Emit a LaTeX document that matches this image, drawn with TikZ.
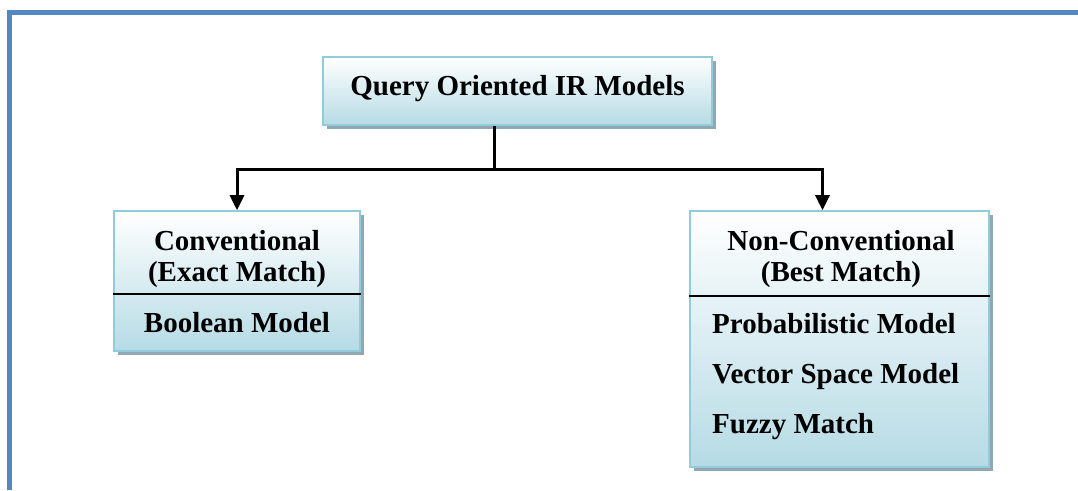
\documentclass[tikz,border=0pt]{standalone}
\usepackage{fontspec}
\setmainfont{Liberation Serif}
\usetikzlibrary{arrows.meta,shadows,calc}

\definecolor{framecol}{RGB}{84,134,196}
\definecolor{boxedge}{RGB}{146,204,220}
\definecolor{boxbottom}{RGB}{182,219,229}
\definecolor{shadowcol}{RGB}{143,168,178}

\tikzset{
  modelbox/.style={rectangle, draw=boxedge, line width=1.6pt, inner sep=0pt,
    top color=white, bottom color=boxbottom,
    drop shadow={shadow xshift=3.5pt, shadow yshift=-3.5pt, fill=shadowcol, opacity=1}},
  label/.style={anchor=base, inner sep=0pt, font=\bfseries\fontsize{29}{33}\selectfont},
  item/.style={label, anchor=base west},
  connector/.style={line width=3pt, line join=miter},
  arrowline/.style={connector, -{Triangle[length=15pt,width=14pt]}},
  divider/.style={line width=1.6pt, black},
  frame/.style={line width=5pt, draw=framecol, line join=miter}
}

\begin{document}
\begin{tikzpicture}[x=1pt,y=-1pt]
  \useasboundingbox (0,0) rectangle (1078,490);

  % outer frame (top and left edges)
  \draw[frame] (1078,12.5) -- (9.5,12.5) -- (9.5,490);

  % boxes
  \node[modelbox, minimum width=389pt, minimum height=68pt] (root) at (517.5,91) {};
  \node[modelbox, minimum width=246pt, minimum height=140pt] (conv) at (237,281) {};
  \node[modelbox, minimum width=299pt, minimum height=256pt] (nonconv) at (839.5,339) {};

  % separators between heading and model list
  \draw[divider] (conv.west |- 0,294) -- (conv.east |- 0,294);
  \draw[divider] (nonconv.west |- 0,296) -- (nonconv.east |- 0,296);

  % texts
  \node[label] (rootText) at (517.5,95) {Query Oriented IR Models};

  \node[label] (convA) at (237,250) {Conventional};
  \node[label] (convB) at (237,281) {(Exact Match)};
  \node[label] (bool) at (237,332) {Boolean Model};

  \node[label] (nonA) at (841,250) {Non-Conventional};
  \node[label] (nonB) at (841,281) {(Best Match)};
  \node[item] (prob) at (712,333) {Probabilistic Model};
  \node[item] (vsm) at (712,383) {Vector Space Model};
  \node[item] (fuzzy) at (712,433) {Fuzzy Match};

  % connectors
  \coordinate (fork) at (494,169);
  \coordinate (rightEnd) at ([xshift=-17pt]nonconv.north);
  \draw[connector] (root.south -| fork) -- (fork);
  \draw[arrowline] (fork) -| (conv.north);
  \draw[arrowline] (fork) -| (rightEnd);
\end{tikzpicture}
\end{document}
